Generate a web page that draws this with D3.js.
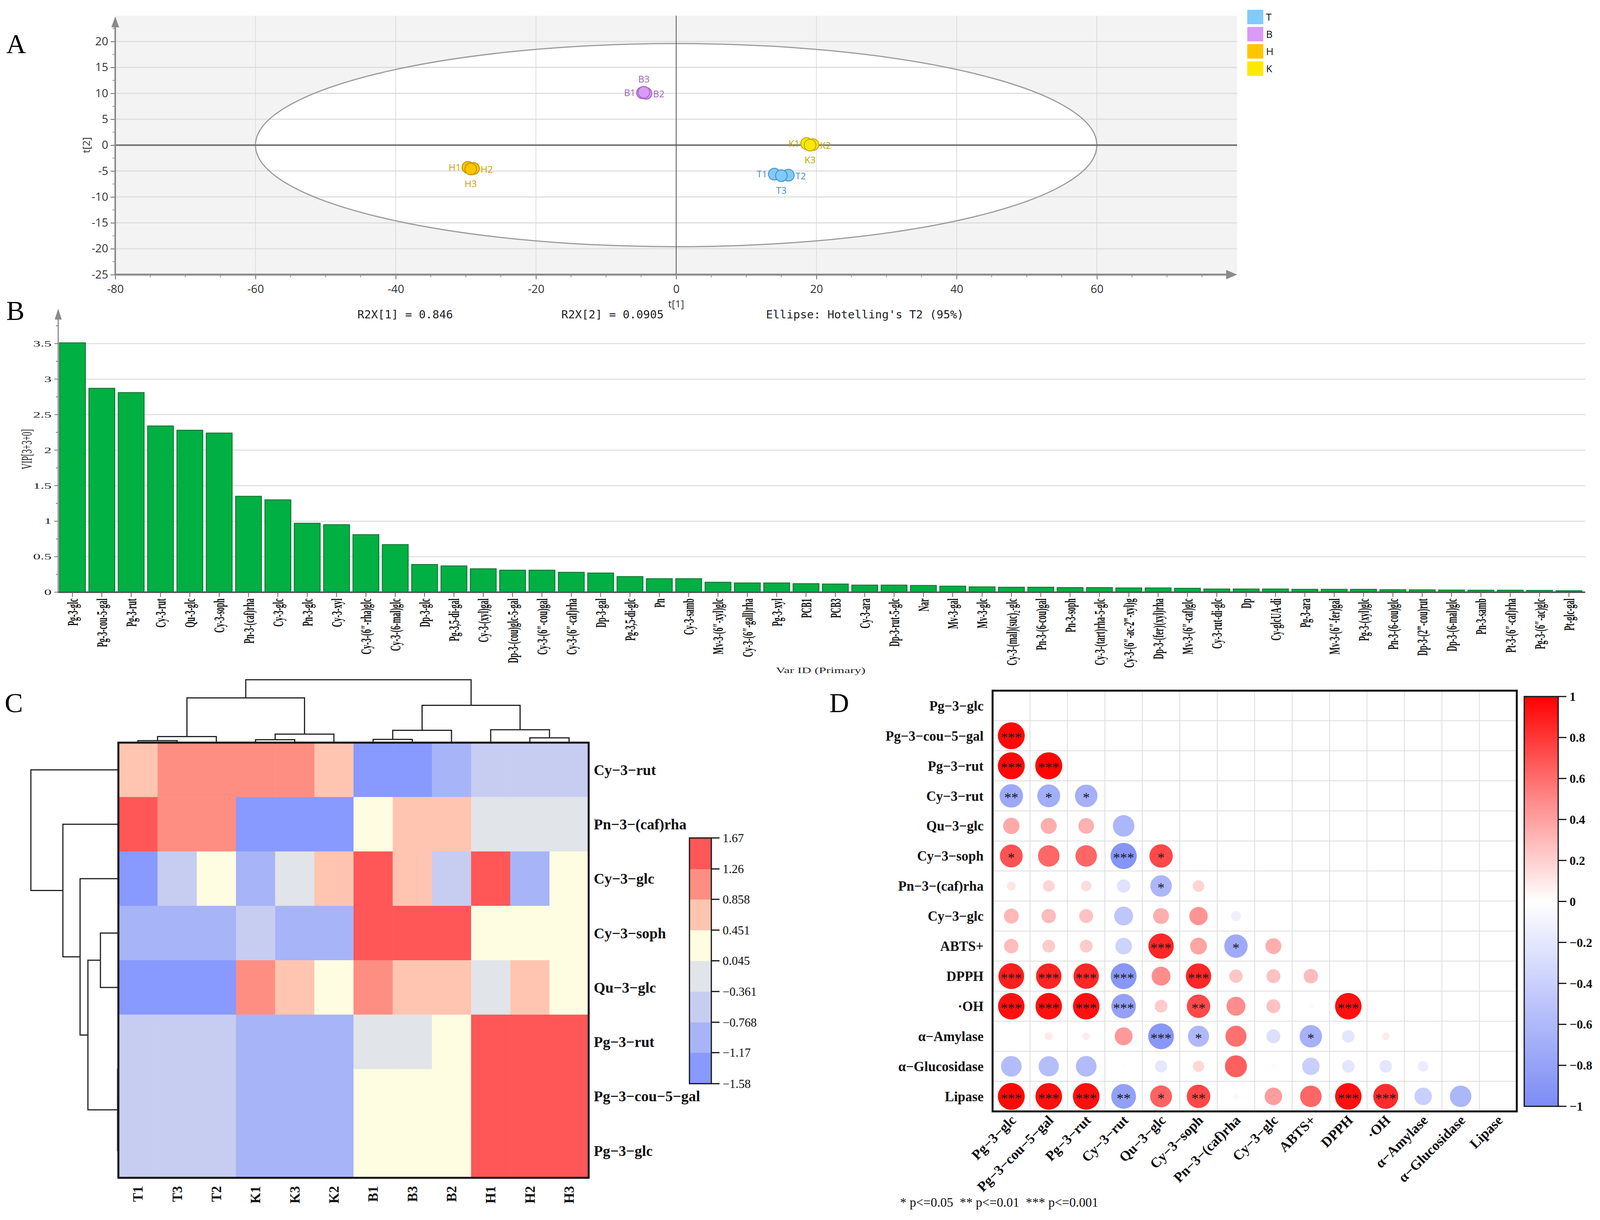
<!DOCTYPE html>
<html>
<head>
<meta charset="utf-8">
<script src="https://cdn.jsdelivr.net/npm/d3@7"></script>
<style>
  body { margin: 0; background: #fff; }
</style>
</head>
<body>
<script>
// ---- A: PCA scores ----
const scoreSamples = ['T1', 'T2', 'T3', 'B1', 'B2', 'B3', 'H1', 'H2', 'H3', 'K1', 'K2', 'K3'];
const scoreT1 = [14.0, 16.0, 15.0, -4.8, -4.3, -4.6, -29.7, -28.9, -29.3, 18.6, 19.5, 19.1];
const scoreT2 = [-5.6, -5.8, -5.9, 10.1, 10.0, 10.2, -4.3, -4.5, -4.6, 0.3, 0.1, 0.0];
const scoreGroups = ['T', 'B', 'H', 'K'];
const ellipseT1 = 60;
const ellipseT2 = 19.6;
const scoreTicksX = [-80, -60, -40, -20, 0, 20, 40, 60];
const scoreTicksY = [-25, -20, -15, -10, -5, 0, 5, 10, 15, 20];
const scoreNotes = ['R2X[1] = 0.846', 'R2X[2] = 0.0905', "Ellipse: Hotelling's T2 (95%)"];

// ---- B: VIP ----
const vipNames = ['Pg-3-glc', 'Pg-3-cou-5-gal', 'Pg-3-rut', 'Cy-3-rut', 'Qu-3-glc', 'Cy-3-soph',
  'Pn-3-(caf)rha', 'Cy-3-glc', 'Pn-3-glc', 'Cy-3-xyl', 'Cy-3-(6″-rha)glc', 'Cy-3-(6-mal)glc',
  'Dp-3-glc', 'Pg-3,5-di-gal', 'Cy-3-(xyl)gal', 'Dp-3-(cou)glc-5-gal', 'Cy-3-(6″-cou)gal',
  'Cy-3-(6″-caf)rha', 'Dp-3-gal', 'Pg-3,5-di-glc', 'Pn', 'Cy-3-samb', 'Mv-3-(6″-xyl)glc',
  'Cy-3-(6″-gall)rha', 'Pg-3-xyl', 'PCB1', 'PCB3', 'Cy-3-ara', 'Dp-3-rut-5-glc', 'Nar',
  'Mv-3-gal', 'Mv-3-glc', 'Cy-3-(mal)(suc)₂-glc', 'Pn-3-(6-cou)gal', 'Pn-3-soph',
  'Cy-3-(tart)rha-5-glc', 'Cy-3-(6″-ac-2‴-xyl)g', 'Dp-3-(fer)(xyl)rha', 'Mv-3-(6″-caf)glc',
  'Cy-3-rut-di-glc', 'Dp', 'Cy-glcUA-di', 'Pg-3-ara', 'Mv-3-(6″-fer)gal', 'Pg-3-(xyl)glc',
  'Pn-3-(6-cou)glc', 'Dp-3-(2‴-cou)rut', 'Dp-3-(6-mal)glc', 'Pn-3-samb', 'Pt-3-(6″-caf)rha',
  'Pg-3-(6″-ac)glc', 'Pt-glc-gal'];
const vipValues = [3.51, 2.87, 2.81, 2.34, 2.28, 2.24, 1.35, 1.30, 0.97, 0.95, 0.81, 0.67,
  0.39, 0.37, 0.33, 0.31, 0.31, 0.28, 0.27, 0.22, 0.19, 0.19, 0.14, 0.13, 0.13, 0.12,
  0.115, 0.10, 0.10, 0.095, 0.085, 0.075, 0.07, 0.07, 0.065, 0.065, 0.06, 0.06, 0.055,
  0.045, 0.045, 0.045, 0.04, 0.04, 0.04, 0.035, 0.033, 0.03, 0.028, 0.028, 0.025, 0.02];
const vipTicks = [0, 0.5, 1, 1.5, 2, 2.5, 3, 3.5];

// ---- C: heatmap ----
const heatCols = ['T1', 'T3', 'T2', 'K1', 'K3', 'K2', 'B1', 'B3', 'B2', 'H1', 'H2', 'H3'];
const heatRows = ['Cy−3−rut', 'Pn−3−(caf)rha', 'Cy−3−glc', 'Cy−3−soph', 'Qu−3−glc',
  'Pg−3−rut', 'Pg−3−cou−5−gal', 'Pg−3−glc'];
const heatValues = [
  [0.62, 1.05, 1.02, 1.08, 1.04, 0.66, -1.32, -1.30, -1.02, -0.60, -0.58, -0.62],
  [1.45, 1.02, 1.05, -1.34, -1.36, -1.32, 0.28, 0.68, 0.66, -0.18, -0.16, -0.20],
  [-1.40, -0.58, 0.30, -0.98, -0.20, 0.64, 1.48, 0.70, -0.55, 1.40, -1.05, 0.25],
  [-0.95, -0.97, -0.96, -0.60, -0.94, -0.93, 1.55, 1.52, 1.50, 0.22, 0.20, 0.24],
  [-1.42, -1.45, -1.40, 1.00, 0.62, 0.30, 1.02, 0.70, 0.65, -0.10, 0.62, 0.28],
  [-0.62, -0.60, -0.61, -0.88, -0.90, -0.89, -0.12, -0.15, 0.30, 1.55, 1.50, 1.52],
  [-0.64, -0.63, -0.62, -0.91, -0.90, -0.92, 0.15, 0.18, 0.16, 1.58, 1.56, 1.57],
  [-0.63, -0.62, -0.64, -0.90, -0.91, -0.89, 0.17, 0.16, 0.14, 1.57, 1.58, 1.56]
];
const heatBreaks = [-1.58, -1.17, -0.768, -0.361, 0.045, 0.451, 0.858, 1.26, 1.67];
const heatBreakLabels = ['−1.58', '−1.17', '−0.768', '−0.361', '0.045', '0.451', '0.858', '1.26', '1.67'];
// [left, right, merge height]
const colTree = [
  [[['T1', 'T3', 0.025], 'T2', 0.09], [['K1', 'K3', 0.04], 'K2', 0.13], 0.71],
  [[['B1', 'B3', 0.046], 'B2', 0.19], ['H1', ['H2', 'H3', 0.07], 0.2], 0.59],
  1.0];
const rowTree = ['Cy−3−rut',
  ['Pn−3−(caf)rha',
    ['Cy−3−glc',
      [['Cy−3−soph', 'Qu−3−glc', 0.205],
       [['Pg−3−rut', 'Pg−3−cou−5−gal', 0.004], 'Pg−3−glc', 0.009], 0.348],
      0.4375],
    0.634],
  1.0];

// ---- D: correlation ----
const corrVars = ['Pg−3−glc', 'Pg−3−cou−5−gal', 'Pg−3−rut', 'Cy−3−rut', 'Qu−3−glc', 'Cy−3−soph',
  'Pn−3−(caf)rha', 'Cy−3−glc', 'ABTS+', 'DPPH', '·OH', 'α−Amylase', 'α−Glucosidase', 'Lipase'];
const corrR = [
  [],
  [0.97],
  [0.97, 0.98],
  [-0.74, -0.70, -0.68],
  [0.36, 0.34, 0.33, -0.62],
  [0.70, 0.62, 0.62, -0.92, 0.73],
  [0.11, 0.18, 0.15, -0.24, -0.62, 0.18],
  [0.30, 0.28, 0.26, -0.48, 0.34, 0.45, -0.13],
  [0.28, 0.22, 0.22, -0.37, 0.86, 0.38, -0.73, 0.34],
  [0.89, 0.87, 0.86, -0.90, 0.48, 0.86, 0.24, 0.26, 0.28],
  [0.94, 0.94, 0.94, -0.81, 0.22, 0.73, 0.48, 0.26, 0.03, 0.94],
  [0.00, 0.09, 0.08, 0.43, -0.89, -0.60, 0.59, -0.26, -0.67, -0.21, 0.08],
  [-0.57, -0.55, -0.57, -0.02, -0.20, 0.17, 0.65, 0.03, -0.41, -0.21, -0.21, -0.15],
  [0.97, 0.95, 0.95, -0.82, 0.64, 0.74, -0.05, 0.41, 0.62, 0.94, 0.84, -0.41, -0.62]
];
const corrStars = [
  [],
  ['***'],
  ['***', '***'],
  ['**', '*', '*'],
  ['', '', '', ''],
  ['*', '', '', '***', '*'],
  ['', '', '', '', '*', ''],
  ['', '', '', '', '', '', ''],
  ['', '', '', '', '***', '', '*', ''],
  ['***', '***', '***', '***', '', '***', '', '', ''],
  ['***', '***', '***', '***', '', '**', '', '', '', '***'],
  ['', '', '', '', '***', '*', '', '', '*', '', ''],
  ['', '', '', '', '', '', '', '', '', '', '', ''],
  ['***', '***', '***', '**', '*', '**', '', '', '', '***', '***', '', '']
];
const corrTicks = [1, 0.8, 0.6, 0.4, 0.2, 0, -0.2, -0.4, -0.6, -0.8, -1];
const corrNote = '* p<=0.05  ** p<=0.01  *** p<=0.001';

// ---- style ----
const SERIF = "'Liberation Serif','Times New Roman',Times,serif";
const SANS = "'Open Sans','Noto Sans',sans-serif";
const MONO = "'DejaVu Sans Mono','Liberation Mono',monospace";
const groupFill = { T: '#7ecbfc', B: '#d99af8', H: '#ffc600', K: '#ffe800' };
const groupStroke = { T: '#4f93c9', B: '#a46ac6', H: '#c99500', K: '#c6a900' };
const groupText = { T: '#4b8bc2', B: '#a05ec8', H: '#cf9d00', K: '#bfa500' };
const heatColors = ['#8899ff', '#a7b4f8', '#c6cdf1', '#e1e4e8', '#fffde1', '#ffc5b1', '#ff8e82', '#ff5757'];

const W = 4104, H = 3123;
const svg = d3.select('body').append('svg')
    .attr('width', W)
    .attr('height', H)
    .style('display', 'block');
svg.append('rect').attr('width', W).attr('height', H).attr('fill', '#fff');

// panel letters
svg.selectAll('text.letter')
  .data([['A', 16, 136], ['B', 16, 819], ['C', 12, 1823], ['D', 2123, 1823]])
  .join('text')
    .attr('class', 'letter')
    .attr('x', d => d[1])
    .attr('y', d => d[2])
    .attr('font-family', SERIF)
    .attr('font-size', 70)
    .text(d => d[0]);

// ================= A =================
const gA = svg.append('g');
const ax = d3.scaleLinear().domain([-80, 80]).range([295, 3167]);
const ay = d3.scaleLinear().domain([-25, 25]).range([703, 40]);

gA.append('rect')
    .attr('x', ax(-80)).attr('y', ay(25))
    .attr('width', ax(80) - ax(-80)).attr('height', ay(-25) - ay(25))
    .attr('fill', '#f3f3f3');
gA.append('ellipse')
    .attr('cx', ax(0)).attr('cy', ay(0))
    .attr('rx', ax(ellipseT1) - ax(0)).attr('ry', ay(0) - ay(ellipseT2))
    .attr('fill', '#fff');

gA.selectAll('line.hgrid')
  .data(scoreTicksY.filter(v => v !== 0 && v !== -25))
  .join('line')
    .attr('x1', ax(-80)).attr('x2', ax(80))
    .attr('y1', d => ay(d)).attr('y2', d => ay(d))
    .attr('stroke', '#dedede').attr('stroke-width', 3);
gA.selectAll('line.vgrid')
  .data(scoreTicksX.filter(v => v !== 0 && v !== -80))
  .join('line')
    .attr('x1', d => ax(d)).attr('x2', d => ax(d))
    .attr('y1', ay(25)).attr('y2', ay(-25))
    .attr('stroke', '#d6d6d6').attr('stroke-width', 1.5);

gA.append('ellipse')
    .attr('cx', ax(0)).attr('cy', ay(0))
    .attr('rx', ax(ellipseT1) - ax(0)).attr('ry', ay(0) - ay(ellipseT2))
    .attr('fill', 'none').attr('stroke', '#9c9c9c').attr('stroke-width', 3);

gA.append('line')
    .attr('x1', ax(-80)).attr('x2', ax(80)).attr('y1', ay(0)).attr('y2', ay(0))
    .attr('stroke', '#707070').attr('stroke-width', 4);
gA.append('line')
    .attr('x1', ax(0)).attr('x2', ax(0)).attr('y1', ay(25)).attr('y2', ay(-25))
    .attr('stroke', '#555').attr('stroke-width', 2);

// axes
const xAxisA = d3.axisBottom(ax).tickValues(scoreTicksX).tickSize(12).tickPadding(14).tickFormat(d => String(d));
gA.append('g')
    .attr('transform', `translate(0,${ay(-25)})`)
    .call(xAxisA)
    .call(g => g.select('.domain').remove())
    .call(g => g.selectAll('line').attr('stroke', '#666').attr('stroke-width', 2))
    .call(g => g.selectAll('text').attr('font-family', SANS).attr('font-size', 29).attr('fill', '#333'));
gA.selectAll('line.xminor')
  .data(d3.range(-75, 80, 5).filter(v => v % 20 !== 0))
  .join('line')
    .attr('x1', d => ax(d)).attr('x2', d => ax(d))
    .attr('y1', ay(-25)).attr('y2', ay(-25) + 7)
    .attr('stroke', '#777').attr('stroke-width', 1.5);

const yAxisA = d3.axisLeft(ay).tickValues(scoreTicksY).tickSize(12).tickPadding(6).tickFormat(d => String(d));
gA.append('g')
    .attr('transform', `translate(${ax(-80)},0)`)
    .call(yAxisA)
    .call(g => g.select('.domain').remove())
    .call(g => g.selectAll('line').attr('stroke', '#666').attr('stroke-width', 2))
    .call(g => g.selectAll('text').attr('font-family', SANS).attr('font-size', 29).attr('fill', '#333'));
gA.selectAll('line.yminor')
  .data(d3.range(-22.5, 25, 5))
  .join('line')
    .attr('x1', ax(-80) - 7).attr('x2', ax(-80))
    .attr('y1', d => ay(d)).attr('y2', d => ay(d))
    .attr('stroke', '#777').attr('stroke-width', 1.5);

gA.append('line')
    .attr('x1', ax(-80)).attr('x2', ax(80) - 20).attr('y1', ay(-25)).attr('y2', ay(-25))
    .attr('stroke', '#8a8a8a').attr('stroke-width', 5);
gA.append('path')
    .attr('d', `M${ax(80)},${ay(-25)}L${ax(80) - 28},${ay(-25) - 12}L${ax(80) - 28},${ay(-25) + 12}Z`)
    .attr('fill', '#8a8a8a');
gA.append('line')
    .attr('x1', ax(-80)).attr('x2', ax(-80)).attr('y1', ay(-25)).attr('y2', ay(25) + 20)
    .attr('stroke', '#8a8a8a').attr('stroke-width', 4);
gA.append('path')
    .attr('d', `M${ax(-80)},${ay(25) + 2}L${ax(-80) - 10},${ay(25) + 30}L${ax(-80) + 10},${ay(25) + 30}Z`)
    .attr('fill', '#8a8a8a');

gA.append('text')
    .attr('transform', `translate(221,${ay(0)}) rotate(-90)`)
    .attr('text-anchor', 'middle').attr('dy', '0.35em')
    .attr('font-family', SANS).attr('font-size', 26).attr('fill', '#333')
    .text('t[2]');
gA.append('text')
    .attr('x', ax(0)).attr('y', 787)
    .attr('text-anchor', 'middle')
    .attr('font-family', SANS).attr('font-size', 26).attr('fill', '#333')
    .text('t[1]');

gA.selectAll('text.note')
  .data(scoreNotes)
  .join('text')
    .attr('x', (d, i) => [915, 1437, 1961][i])
    .attr('y', 815)
    .attr('font-family', MONO).attr('font-size', 29).attr('fill', '#222')
    .text(d => d);

// points
const scorePts = scoreSamples.map((s, i) => ({ name: s, g: s[0], rep: s[1], x: scoreT1[i], y: scoreT2[i] }));
gA.selectAll('circle.pt')
  .data(scorePts)
  .join('circle')
    .attr('cx', d => ax(d.x)).attr('cy', d => ay(d.y)).attr('r', 15)
    .attr('fill', d => groupFill[d.g]).attr('stroke', d => groupStroke[d.g])
    .attr('stroke-width', 2.5);
const labelPlace = d => d.rep === '1' ? 'left' : d.rep === '2' ? 'right' : (d.g === 'B' ? 'above' : 'below');
gA.selectAll('text.pl')
  .data(scorePts)
  .join('text')
    .attr('x', d => ax(d.x) + ({ left: -18, right: 18, above: 0, below: 0 })[labelPlace(d)])
    .attr('y', d => ay(d.y) + ({ left: 0, right: 2, above: -34, below: 38 })[labelPlace(d)])
    .attr('dy', '0.35em')
    .attr('text-anchor', d => ({ left: 'end', right: 'start', above: 'middle', below: 'middle' })[labelPlace(d)])
    .attr('font-family', SANS).attr('font-size', 24)
    .attr('fill', d => groupText[d.g])
    .text(d => d.name);

// legend
const legA = gA.selectAll('g.leg')
  .data(scoreGroups)
  .join('g')
    .attr('transform', (d, i) => `translate(3193,${25 + i * 44})`);
legA.append('rect').attr('width', 41).attr('height', 37).attr('fill', d => groupFill[d]);
legA.append('text')
    .attr('x', 48).attr('y', 19).attr('dy', '0.35em')
    .attr('font-family', SANS).attr('font-size', 26).attr('fill', '#111')
    .text(d => d);

// ================= B =================
const gB = svg.append('g');
const bx = d3.scaleBand().domain(vipNames).range([148, 4054]).paddingInner(0.12).paddingOuter(0.06);
const by = d3.scaleLinear().domain([0, 3.5]).range([1516, 879.5]);

gB.selectAll('line.grid')
  .data(vipTicks.slice(1))
  .join('line')
    .attr('x1', 149).attr('x2', 4058)
    .attr('y1', d => by(d)).attr('y2', d => by(d))
    .attr('stroke', '#e2e2e2').attr('stroke-width', 3);

gB.selectAll('rect.bar')
  .data(vipNames.map((n, i) => ({ n, v: vipValues[i] })))
  .join('rect')
    .attr('x', d => bx(d.n)).attr('width', bx.bandwidth())
    .attr('y', d => by(d.v)).attr('height', d => by(0) - by(d.v))
    .attr('fill', '#00b043').attr('stroke', '#137a36').attr('stroke-width', 2.5);

gB.append('line')
    .attr('x1', 149).attr('x2', 149).attr('y1', by(0)).attr('y2', 806)
    .attr('stroke', '#8a8a8a').attr('stroke-width', 3);
gB.append('path')
    .attr('d', 'M149,790L140,818L158,818Z')
    .attr('fill', '#8a8a8a');
gB.selectAll('line.ytick')
  .data(d3.range(0, 3.9, 0.25))
  .join('line')
    .attr('x1', d => (d * 2) % 1 === 0 ? 139 : 143).attr('x2', 149)
    .attr('y1', d => by(d)).attr('y2', d => by(d))
    .attr('stroke', '#777').attr('stroke-width', 2);
gB.selectAll('text.ylab')
  .data(vipTicks)
  .join('text')
    .attr('transform', d => `translate(132,${by(d)}) scale(1.8,1)`)
    .attr('text-anchor', 'end').attr('dy', '0.35em')
    .attr('font-family', SERIF).attr('font-size', 21).attr('fill', '#222')
    .text(d => String(d));
gB.append('text')
    .attr('transform', `translate(68,1150) rotate(-90) scale(1,1.8)`)
    .attr('text-anchor', 'middle').attr('dy', '0.35em')
    .attr('font-family', SERIF).attr('font-size', 21).attr('fill', '#222')
    .text('VIP[3+3+0]');

gB.append('line')
    .attr('x1', 149).attr('x2', 4058).attr('y1', by(0)).attr('y2', by(0))
    .attr('stroke', '#555').attr('stroke-width', 4);
gB.selectAll('line.xtick')
  .data(vipNames)
  .join('line')
    .attr('x1', d => bx(d) + bx.bandwidth() / 2).attr('x2', d => bx(d) + bx.bandwidth() / 2)
    .attr('y1', by(0)).attr('y2', by(0) + 12)
    .attr('stroke', '#666').attr('stroke-width', 2);
gB.selectAll('text.xlab')
  .data(vipNames)
  .join('text')
    .attr('transform', d => `translate(${bx(d) + bx.bandwidth() / 2},1532) rotate(-90) scale(1,1.9)`)
    .attr('text-anchor', 'end').attr('dy', '0.35em')
    .attr('font-family', SERIF).attr('font-weight', 'bold').attr('font-size', 20).attr('fill', '#111')
    .text(d => d);
gB.append('text')
    .attr('transform', 'translate(2101,1723) scale(1.6,1)')
    .attr('text-anchor', 'middle')
    .attr('font-family', SERIF).attr('font-size', 21).attr('fill', '#222')
    .text('Var ID (Primary)');

// ================= C =================
const gC = svg.append('g');
const hx = d3.scaleBand().domain(heatCols).range([303, 1507]);
const hy = d3.scaleBand().domain(heatRows).range([1901, 3015]);
const hcol = d3.scaleThreshold().domain(heatBreaks.slice(1, -1)).range(heatColors);

const cells = [];
heatRows.forEach((r, i) => heatCols.forEach((c, j) => cells.push({ r, c, v: heatValues[i][j] })));
gC.selectAll('rect.cell')
  .data(cells)
  .join('rect')
    .attr('x', d => hx(d.c)).attr('y', d => hy(d.r))
    .attr('width', hx.bandwidth() + 0.5).attr('height', hy.bandwidth() + 0.5)
    .attr('fill', d => hcol(d.v));
gC.append('rect')
    .attr('x', 303).attr('y', 1901).attr('width', 1204).attr('height', 1114)
    .attr('fill', 'none').attr('stroke', '#111').attr('stroke-width', 5);

function layoutTree(node, pos) {
  if (typeof node === 'string') return { pos: pos(node), h: 0 };
  const a = layoutTree(node[0], pos), b = layoutTree(node[1], pos);
  return { pos: (a.pos + b.pos) / 2, h: node[2], a, b };
}
function treePaths(t, proj, out) {
  if (!t.a) return out;
  const p = [proj(t.a.pos, t.a.h), proj(t.a.pos, t.h), proj(t.b.pos, t.h), proj(t.b.pos, t.b.h)];
  out.push('M' + p.map(q => q.join(',')).join('L'));
  treePaths(t.a, proj, out);
  treePaths(t.b, proj, out);
  return out;
}
const colH = d3.scaleLinear().domain([0, 1]).range([1900, 1740]);
const rowH = d3.scaleLinear().domain([0, 1]).range([303, 79]);
const colLayout = layoutTree(colTree, n => hx(n) + hx.bandwidth() / 2);
const rowLayout = layoutTree(rowTree, n => hy(n) + hy.bandwidth() / 2);
gC.selectAll('path.cden')
  .data(treePaths(colLayout, (p, h) => [p, colH(h)], []))
  .join('path')
    .attr('d', d => d).attr('fill', 'none').attr('stroke', '#222').attr('stroke-width', 3);
gC.selectAll('path.rden')
  .data(treePaths(rowLayout, (p, h) => [rowH(h), p], []))
  .join('path')
    .attr('d', d => d).attr('fill', 'none').attr('stroke', '#222').attr('stroke-width', 3);

gC.selectAll('text.clab')
  .data(heatCols)
  .join('text')
    .attr('transform', d => `translate(${hx(d) + hx.bandwidth() / 2},3036) rotate(-90)`)
    .attr('text-anchor', 'end').attr('dy', '0.35em')
    .attr('font-family', SERIF).attr('font-weight', 'bold').attr('font-size', 35).attr('fill', '#111')
    .text(d => d);
gC.selectAll('text.rlab')
  .data(heatRows)
  .join('text')
    .attr('x', 1520).attr('y', d => hy(d) + hy.bandwidth() / 2)
    .attr('dy', '0.35em')
    .attr('font-family', SERIF).attr('font-weight', 'bold').attr('font-size', 38).attr('fill', '#111')
    .text(d => d);

const hLeg = d3.scaleLinear().domain([heatBreaks[0], heatBreaks[8]]).range([2774, 2145]);
gC.selectAll('rect.leg')
  .data(heatColors)
  .join('rect')
    .attr('x', 1765).attr('width', 56)
    .attr('y', (d, i) => hLeg(heatBreaks[i + 1]))
    .attr('height', (d, i) => hLeg(heatBreaks[i]) - hLeg(heatBreaks[i + 1]) + 0.5)
    .attr('fill', d => d);
gC.append('rect')
    .attr('x', 1765).attr('y', 2145).attr('width', 56).attr('height', 629)
    .attr('fill', 'none').attr('stroke', '#111').attr('stroke-width', 3);
gC.selectAll('line.legtick')
  .data(heatBreaks)
  .join('line')
    .attr('x1', 1821).attr('x2', 1842)
    .attr('y1', d => hLeg(d)).attr('y2', d => hLeg(d))
    .attr('stroke', '#111').attr('stroke-width', 3);
gC.selectAll('text.leglab')
  .data(heatBreaks)
  .join('text')
    .attr('x', 1850).attr('y', d => hLeg(d)).attr('dy', '0.35em')
    .attr('font-family', SERIF).attr('font-size', 31).attr('fill', '#111')
    .text((d, i) => heatBreakLabels[i]);

// ================= D =================
const gD = svg.append('g');
const dx = d3.scaleBand().domain(corrVars).range([2541, 3883]);
const dy = d3.scaleBand().domain(corrVars).range([1768, 2845]);
const dcol = d3.scaleLinear()
    .domain([-1, -0.5, 0, 0.5, 1])
    .range(['#7b8cf5', '#bcc4fb', '#ffffff', '#ff8888', '#ff0000']);
const rMax = 35;

gD.selectAll('line.gx')
  .data(d3.range(1, corrVars.length))
  .join('line')
    .attr('x1', i => 2541 + i * dx.step()).attr('x2', i => 2541 + i * dx.step())
    .attr('y1', 1768).attr('y2', 2845)
    .attr('stroke', '#dddddd').attr('stroke-width', 2);
gD.selectAll('line.gy')
  .data(d3.range(1, corrVars.length))
  .join('line')
    .attr('y1', i => 1768 + i * dy.step()).attr('y2', i => 1768 + i * dy.step())
    .attr('x1', 2541).attr('x2', 3883)
    .attr('stroke', '#dddddd').attr('stroke-width', 2);

const corrCells = [];
corrR.forEach((row, i) => row.forEach((v, j) => corrCells.push({
  row: corrVars[i], col: corrVars[j], v, s: corrStars[i][j]
})));
gD.selectAll('circle.cc')
  .data(corrCells)
  .join('circle')
    .attr('cx', d => dx(d.col) + dx.bandwidth() / 2)
    .attr('cy', d => dy(d.row) + dy.bandwidth() / 2)
    .attr('r', d => rMax * Math.sqrt(Math.abs(d.v)))
    .attr('fill', d => dcol(d.v));
gD.selectAll('text.star')
  .data(corrCells.filter(d => d.s))
  .join('text')
    .attr('x', d => dx(d.col) + dx.bandwidth() / 2)
    .attr('y', d => dy(d.row) + dy.bandwidth() / 2 + 17)
    .attr('text-anchor', 'middle')
    .attr('font-family', SERIF).attr('font-size', 36).attr('fill', '#1a1a1a')
    .text(d => d.s);

gD.append('rect')
    .attr('x', 2541).attr('y', 1768).attr('width', 1342).attr('height', 1077)
    .attr('fill', 'none').attr('stroke', '#111').attr('stroke-width', 5);

gD.selectAll('text.drow')
  .data(corrVars)
  .join('text')
    .attr('x', 2518).attr('y', d => dy(d) + dy.bandwidth() / 2).attr('dy', '0.35em')
    .attr('text-anchor', 'end')
    .attr('font-family', SERIF).attr('font-weight', 'bold').attr('font-size', 35).attr('fill', '#111')
    .text(d => d);
gD.selectAll('text.dcol')
  .data(corrVars)
  .join('text')
    .attr('transform', d => `translate(${dx(d) + dx.bandwidth() / 2 + 14},2870) rotate(-45)`)
    .attr('text-anchor', 'end')
    .attr('font-family', SERIF).attr('font-weight', 'bold').attr('font-size', 36).attr('fill', '#111')
    .text(d => d);

// colour bar
const grad = svg.append('defs').append('linearGradient')
    .attr('id', 'corrGrad').attr('x1', 0).attr('y1', 1).attr('x2', 0).attr('y2', 0);
grad.selectAll('stop')
  .data(d3.range(-1, 1.001, 0.05))
  .join('stop')
    .attr('offset', d => (d + 1) / 2)
    .attr('stop-color', d => dcol(d));
const cbY = d3.scaleLinear().domain([-1, 1]).range([2832, 1783]);
gD.append('rect')
    .attr('x', 3902).attr('y', 1783).attr('width', 87).attr('height', 1049)
    .attr('fill', 'url(#corrGrad)').attr('stroke', '#111').attr('stroke-width', 3);
gD.selectAll('line.cbt')
  .data(corrTicks)
  .join('line')
    .attr('x1', 3989).attr('x2', 4010)
    .attr('y1', d => cbY(d)).attr('y2', d => cbY(d))
    .attr('stroke', '#111').attr('stroke-width', 3);
gD.selectAll('text.cbl')
  .data(corrTicks)
  .join('text')
    .attr('x', 4018).attr('y', d => cbY(d)).attr('dy', '0.35em')
    .attr('font-family', SERIF).attr('font-weight', 'bold').attr('font-size', 32).attr('fill', '#111')
    .text(d => d < 0 ? '−' + String(-d) : String(d));

gD.append('text')
    .attr('x', 2304).attr('y', 3089)
    .attr('font-family', SERIF).attr('font-size', 33).attr('fill', '#111')
    .attr('xml:space', 'preserve').style('white-space', 'pre')
    .text(corrNote);
</script>
</body>
</html>
